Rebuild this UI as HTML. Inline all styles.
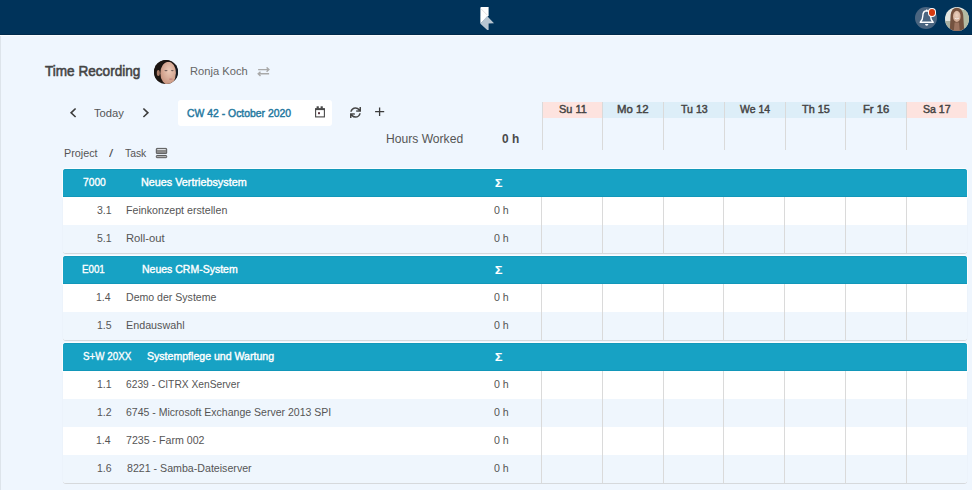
<!DOCTYPE html>
<html><head><meta charset="utf-8">
<style>
*{box-sizing:border-box;margin:0;padding:0}
html,body{width:972px;height:490px;overflow:hidden}
body{background:#eff6fe;font-family:"Liberation Sans",sans-serif;position:relative;color:#555}
.a{position:absolute;white-space:nowrap}
.t{line-height:1}
.vl{position:absolute;width:1px;background:#dadada}
</style></head><body>
<div class="a" style="left:0;top:0;width:972px;height:34px;background:#00335a"></div>
<div class="a" style="left:0;top:34px;width:972px;height:1px;background:#002a4c"></div>
<div class="a" style="left:0;top:35px;width:972px;height:1px;background:#fbfdff"></div>
<div class="a" style="left:0;top:36px;width:1px;height:454px;background:#dde4eb"></div>
<svg class="a" style="left:478px;top:5px" width="20" height="28" viewBox="0 0 20 28">
  <path d="M2.4 3 Q2.4 2.1 3.3 2.1 L10.6 2.1 L10.6 10.6 L2.4 18.7 Z" fill="#ffffff"/>
  <path d="M3.2 4 L9.2 10" stroke="#d8d4d2" stroke-width="0.7"/>
  <path d="M2.4 18.7 L9.1 11.1 L16 18.2 L10.6 18.4 L10.6 24.9 L9.2 24.9 Z" fill="#b8c6d2"/>
</svg>
<div class="a" style="left:915px;top:7px;width:22px;height:22px;border-radius:50%;background:#4a6580"></div>
<svg class="a" style="left:915px;top:7px" width="22" height="22" viewBox="0 0 22 22">
  <path d="M5.2 15.3 Q7.8 13 7.8 9 Q7.8 3.9 11.7 3.7 Q15.6 3.9 15.6 9 Q15.6 13 18.2 15.3 Z" fill="none" stroke="#fff" stroke-width="1.4" stroke-linejoin="round"/>
  <path d="M11.7 2.6 L11.7 3.8" stroke="#fff" stroke-width="1.3"/>
  <path d="M10 16.9 L13.4 16.9 Q13.2 18.7 11.7 18.7 Q10.2 18.7 10 16.9 Z" fill="#fff"/>
</svg>
<div class="a" style="left:929.1px;top:9.3px;width:6.4px;height:6.4px;border-radius:50%;background:#d63a10;box-shadow:0 0 0 1px #fff"></div>
<svg class="a" style="left:945px;top:7px" width="24" height="24" viewBox="0 0 24 24">
  <defs><clipPath id="c1"><circle cx="12" cy="12" r="12"/></clipPath>
  <radialGradient id="fg1" cx="0.5" cy="0.4" r="0.6"><stop offset="0" stop-color="#ead3c3"/><stop offset="1" stop-color="#cfa890"/></radialGradient></defs>
  <g clip-path="url(#c1)">
    <rect width="24" height="24" fill="#e4e6e0"/>
    <rect x="16" y="3" width="8" height="21" fill="#b3bba2"/>
    <rect x="0" y="14" width="6" height="10" fill="#a9b0a2"/>
    <path d="M4.8 24 L5.6 8 Q6.6 0.8 11.8 0.8 Q17.2 0.8 18.2 8 L19.2 24 Z" fill="#74523f"/>
    <ellipse cx="11.8" cy="9.4" rx="3.8" ry="5.6" fill="url(#fg1)"/>
    <path d="M9.6 11.2 Q11.8 12.6 14 11.2" stroke="#f4eee8" stroke-width="0.9" fill="none"/>
    <path d="M8.8 24 L9.6 15.5 L14 15.5 L14.8 24 Z" fill="#9c7460"/>
  </g>
</svg>
<div class="a t" style="left:44.60px;top:62.78px;font-size:15.5px;font-weight:normal;color:#444;-webkit-text-stroke:0.6px #444;transform:scaleX(0.8759);transform-origin:0 0">Time Recording</div>
<svg class="a" style="left:154px;top:59.8px" width="24" height="24" viewBox="0 0 24 24">
  <defs><clipPath id="c2"><circle cx="12" cy="12" r="12"/></clipPath>
  <radialGradient id="fg2" cx="0.55" cy="0.4" r="0.6"><stop offset="0" stop-color="#eccab8"/><stop offset="1" stop-color="#c99580"/></radialGradient></defs>
  <g clip-path="url(#c2)">
    <rect width="24" height="24" fill="#1c1511"/>
    <ellipse cx="14.2" cy="13.2" rx="7.8" ry="11.5" fill="url(#fg2)"/>
    <path d="M0 0 L24 0 L24 5 Q21 1.2 14 1.8 Q8 2.8 6 9.5 L5.5 24 L0 24 Z" fill="#1c1511"/>
    <ellipse cx="4.3" cy="13" rx="1.5" ry="3" fill="#a87a66"/>
    <path d="M21.6 4 Q22.5 12 21.3 21 L24 21 L24 4 Z" fill="#141a24"/>
    <ellipse cx="12" cy="10.6" rx="1.6" ry="0.6" fill="#6e5a56"/>
    <ellipse cx="18.3" cy="10.6" rx="1.4" ry="0.6" fill="#6e5a56"/>
    <ellipse cx="16.8" cy="19.1" rx="2" ry="0.7" fill="#c07a78"/>
  </g>
</svg>
<div class="a t" style="left:189.81px;top:66.13px;font-size:11.3px;font-weight:normal;color:#666;transform:scaleX(0.9877);transform-origin:0 0">Ronja Koch</div>
<svg class="a" style="left:257px;top:67px" width="13" height="10" viewBox="0 0 13 10">
  <path d="M1.1 2.6 L11.8 2.6 M9.6 0.4 L11.9 2.6 L9.6 4.7" fill="none" stroke="#a9a9a9" stroke-width="1.4"/>
  <path d="M12.1 6.8 L1.4 6.8 M3.5 4.7 L1.2 6.8 L3.5 9" fill="none" stroke="#a9a9a9" stroke-width="1.4"/>
</svg>
<svg class="a" style="left:69px;top:107px" width="10" height="12" viewBox="0 0 10 12">
  <path d="M6.6 1.5 L2.1 5.8 L6.6 10" fill="none" stroke="#3c3c3c" stroke-width="1.6"/>
</svg>
<div class="a t" style="left:94.10px;top:107.48px;font-size:11.6px;font-weight:normal;color:#555;transform:scaleX(0.9677);transform-origin:0 0">Today</div>
<svg class="a" style="left:141px;top:107px" width="10" height="12" viewBox="0 0 10 12">
  <path d="M2.4 1.5 L6.9 5.8 L2.4 10" fill="none" stroke="#3c3c3c" stroke-width="1.6"/>
</svg>
<div class="a" style="left:178px;top:100px;width:154px;height:26px;background:#fff;border-radius:3px"></div>
<div class="a t" style="left:187.40px;top:107.72px;font-size:11.2px;font-weight:normal;color:#24789f;-webkit-text-stroke:0.45px #24789f;transform:scaleX(0.9304);transform-origin:0 0">CW 42 - October 2020</div>
<svg class="a" style="left:314px;top:105px" width="12" height="13" viewBox="0 0 12 13">
  <rect x="1.6" y="3.9" width="8.8" height="8" fill="none" stroke="#484848" stroke-width="1.1"/>
  <rect x="1.1" y="3.3" width="9.8" height="1.8" fill="#484848"/>
  <rect x="2.6" y="1.3" width="2.2" height="2.4" fill="#484848"/>
  <rect x="6.6" y="1.3" width="2.2" height="2.4" fill="#484848"/>
  <rect x="4" y="7.2" width="2" height="2" fill="#5a3640"/>
</svg>
<svg class="a" style="left:350px;top:107px" width="11" height="11" viewBox="0 0 512 512">
  <path fill="#444" d="M440.65 12.57l4 82.77A247.16 247.16 0 0 0 255.83 8C134.73 8 33.91 94.92 12.29 209.82A12 12 0 0 0 24.09 224h49.05a12 12 0 0 0 11.670-9.26 175.91 175.91 0 0 1 317-56.94l-101.46-4.86a12 12 0 0 0-12.57 12v47.410a12 12 0 0 0 12 12H500a12 12 0 0 0 12-12V12a12 12 0 0 0-12-12h-47.37a12 12 0 0 0-11.98 12.57zM255.83 432a175.61 175.61 0 0 1-146-77.8l101.8 4.87a12 12 0 0 0 12.57-12v-47.4a12 12 0 0 0-12-12H12a12 12 0 0 0-12 12V500a12 12 0 0 0 12 12h47.35a12 12 0 0 0 12-12.6l-4.15-82.57A247.17 247.17 0 0 0 255.83 504c121.11 0 221.93-86.92 243.55-201.82a12 12 0 0 0-11.8-14.18h-49.05a12 12 0 0 0-11.67 9.26A175.86 175.86 0 0 1 255.83 432z"/>
</svg>
<svg class="a" style="left:374px;top:106px" width="11" height="11" viewBox="0 0 11 11">
  <path d="M5.6 1.4 L5.6 9.9 M1.1 5.6 L10.2 5.6" stroke="#3c3c3c" stroke-width="1.3"/>
</svg>
<div class="a t" style="left:386.32px;top:132.50px;font-size:12.4px;font-weight:normal;color:#555;transform:scaleX(0.9766);transform-origin:0 0">Hours Worked</div>
<div class="a t" style="left:502.40px;top:132.50px;font-size:12.4px;font-weight:bold;color:#4a4a4a;transform:scaleX(0.9588);transform-origin:0 0">0 h</div>
<div class="a" style="left:543px;top:102px;width:59px;height:16px;background:#fde3df;"></div>
<div class="a t" style="left:558.80px;top:103.96px;font-size:10.8px;font-weight:normal;color:#444;-webkit-text-stroke:0.45px #444;transform:scaleX(1.0111);transform-origin:0 0">Su 11</div>
<div class="a" style="left:603px;top:102px;width:60px;height:16px;background:#ddeef8;"></div>
<div class="a t" style="left:617.14px;top:103.96px;font-size:10.8px;font-weight:normal;color:#444;-webkit-text-stroke:0.45px #444;transform:scaleX(1.0552);transform-origin:0 0">Mo 12</div>
<div class="a" style="left:664px;top:102px;width:60px;height:16px;background:#ddeef8;"></div>
<div class="a t" style="left:681.25px;top:103.96px;font-size:10.8px;font-weight:normal;color:#444;-webkit-text-stroke:0.45px #444;transform:scaleX(0.9815);transform-origin:0 0">Tu 13</div>
<div class="a" style="left:725px;top:102px;width:60px;height:16px;background:#ddeef8;"></div>
<div class="a t" style="left:739.90px;top:103.96px;font-size:10.8px;font-weight:normal;color:#444;-webkit-text-stroke:0.45px #444;transform:scaleX(0.9677);transform-origin:0 0">We 14</div>
<div class="a" style="left:786px;top:102px;width:59px;height:16px;background:#ddeef8;"></div>
<div class="a t" style="left:802.30px;top:103.96px;font-size:10.8px;font-weight:normal;color:#444;-webkit-text-stroke:0.45px #444;transform:scaleX(1.0074);transform-origin:0 0">Th 15</div>
<div class="a" style="left:846px;top:102px;width:60px;height:16px;background:#ddeef8;"></div>
<div class="a t" style="left:862.76px;top:103.96px;font-size:10.8px;font-weight:normal;color:#444;-webkit-text-stroke:0.45px #444;transform:scaleX(1.0417);transform-origin:0 0">Fr 16</div>
<div class="a" style="left:907px;top:102px;width:60px;height:16px;background:#fde3df;border-radius:0 2px 0 0;"></div>
<div class="a t" style="left:923.40px;top:103.96px;font-size:10.8px;font-weight:normal;color:#444;-webkit-text-stroke:0.45px #444;transform:scaleX(0.9786);transform-origin:0 0">Sa 17</div>
<div class="vl" style="left:542px;top:102px;height:48px"></div>
<div class="vl" style="left:602px;top:102px;height:48px"></div>
<div class="vl" style="left:663px;top:102px;height:48px"></div>
<div class="vl" style="left:724px;top:102px;height:48px"></div>
<div class="vl" style="left:785px;top:102px;height:48px"></div>
<div class="vl" style="left:845px;top:102px;height:48px"></div>
<div class="vl" style="left:906px;top:102px;height:48px"></div>
<div class="a t" style="left:63.58px;top:147.83px;font-size:10.6px;font-weight:normal;color:#555;transform:scaleX(1.0188);transform-origin:0 0">Project</div>
<div class="a t" style="left:108.70px;top:147.83px;font-size:10.6px;font-weight:normal;color:#555;transform:scaleX(1.4333);transform-origin:0 0">/</div>
<div class="a t" style="left:125.10px;top:147.83px;font-size:10.6px;font-weight:normal;color:#555;transform:scaleX(0.9773);transform-origin:0 0">Task</div>
<svg class="a" style="left:155px;top:147px" width="13" height="12" viewBox="0 0 13 12">
  <rect x="1.3" y="1.4" width="10.4" height="5.2" rx="0.6" fill="#8a8a8a" stroke="#505050" stroke-width="0.9"/>
  <rect x="2.3" y="2.1" width="8.4" height="0.8" fill="#eef2f6"/>
  <rect x="1.3" y="8.5" width="10.4" height="2.2" rx="0.6" fill="#b0b0b0" stroke="#505050" stroke-width="0.9"/>
</svg>
<div class="a" style="left:63px;top:169px;width:904px;height:84px;background:#fff;border-radius:3px;box-shadow:0 1px 0 #d6d9dc,0 0 1px rgba(0,0,0,.12)"></div>
<div class="a" style="left:63px;top:169px;width:904px;height:28px;background:#17a2c4;border-radius:3px 3px 0 0;box-shadow:0 0 0 1px rgba(255,255,255,.85),inset 0 -1px 0 #1297b9,inset 0 1px 0 #1499bb"></div>
<div class="a t" style="left:82.80px;top:176.50px;font-size:11.1px;font-weight:normal;color:#fff;-webkit-text-stroke:0.35px #fff;transform:scaleX(0.9240);transform-origin:0 0">7000</div>
<div class="a t" style="left:141.23px;top:176.50px;font-size:11.1px;font-weight:normal;color:#fff;-webkit-text-stroke:0.4px #fff;transform:scaleX(0.9738);transform-origin:0 0">Neues Vertriebsystem</div>
<div class="a t" style="left:495.20px;top:177.59px;font-size:11px;font-weight:bold;color:#fff;-webkit-text-stroke:0.2px #fff;transform:scaleX(1.1143);transform-origin:0 0">&Sigma;</div>
<div class="a" style="left:63px;top:197px;width:904px;height:28px;background:#fff;"></div>
<div class="a t" style="left:97.25px;top:205.03px;font-size:11.3px;font-weight:normal;color:#555;transform:scaleX(0.9300);transform-origin:0 0">3.1</div>
<div class="a t" style="left:126.46px;top:205.03px;font-size:11.3px;font-weight:normal;color:#555;transform:scaleX(0.9434);transform-origin:0 0">Feinkonzept erstellen</div>
<div class="a t" style="left:493.70px;top:205.03px;font-size:11.3px;font-weight:normal;color:#555;transform:scaleX(0.9400);transform-origin:0 0">0 h</div>
<div class="a" style="left:63px;top:225px;width:904px;height:28px;background:#eff6fd;border-radius:0 0 3px 3px;"></div>
<div class="a t" style="left:97.25px;top:233.03px;font-size:11.3px;font-weight:normal;color:#555;transform:scaleX(0.9300);transform-origin:0 0">5.1</div>
<div class="a t" style="left:126.41px;top:233.03px;font-size:11.3px;font-weight:normal;color:#555;transform:scaleX(0.9947);transform-origin:0 0">Roll-out</div>
<div class="a t" style="left:493.70px;top:233.03px;font-size:11.3px;font-weight:normal;color:#555;transform:scaleX(0.9400);transform-origin:0 0">0 h</div>
<div class="vl" style="left:541px;top:197px;height:56px"></div>
<div class="vl" style="left:602px;top:197px;height:56px"></div>
<div class="vl" style="left:663px;top:197px;height:56px"></div>
<div class="vl" style="left:723px;top:197px;height:56px"></div>
<div class="vl" style="left:784px;top:197px;height:56px"></div>
<div class="vl" style="left:845px;top:197px;height:56px"></div>
<div class="vl" style="left:906px;top:197px;height:56px"></div>
<div class="a" style="left:63px;top:256px;width:904px;height:84px;background:#fff;border-radius:3px;box-shadow:0 1px 0 #d6d9dc,0 0 1px rgba(0,0,0,.12)"></div>
<div class="a" style="left:63px;top:256px;width:904px;height:28px;background:#17a2c4;border-radius:3px 3px 0 0;box-shadow:0 0 0 1px rgba(255,255,255,.85),inset 0 -1px 0 #1297b9,inset 0 1px 0 #1499bb"></div>
<div class="a t" style="left:81.72px;top:263.50px;font-size:11.1px;font-weight:normal;color:#fff;-webkit-text-stroke:0.35px #fff;transform:scaleX(0.8800);transform-origin:0 0">E001</div>
<div class="a t" style="left:141.65px;top:263.50px;font-size:11.1px;font-weight:normal;color:#fff;-webkit-text-stroke:0.4px #fff;transform:scaleX(0.9460);transform-origin:0 0">Neues CRM-System</div>
<div class="a t" style="left:495.20px;top:264.59px;font-size:11px;font-weight:bold;color:#fff;-webkit-text-stroke:0.2px #fff;transform:scaleX(1.1143);transform-origin:0 0">&Sigma;</div>
<div class="a" style="left:63px;top:284px;width:904px;height:28px;background:#fff;"></div>
<div class="a t" style="left:96.32px;top:292.03px;font-size:11.3px;font-weight:normal;color:#555;transform:scaleX(0.9300);transform-origin:0 0">1.4</div>
<div class="a t" style="left:126.47px;top:292.03px;font-size:11.3px;font-weight:normal;color:#555;transform:scaleX(0.9347);transform-origin:0 0">Demo der Systeme</div>
<div class="a t" style="left:493.70px;top:292.03px;font-size:11.3px;font-weight:normal;color:#555;transform:scaleX(0.9400);transform-origin:0 0">0 h</div>
<div class="a" style="left:63px;top:312px;width:904px;height:28px;background:#eff6fd;border-radius:0 0 3px 3px;"></div>
<div class="a t" style="left:97.25px;top:320.03px;font-size:11.3px;font-weight:normal;color:#555;transform:scaleX(0.9300);transform-origin:0 0">1.5</div>
<div class="a t" style="left:126.45px;top:320.03px;font-size:11.3px;font-weight:normal;color:#555;transform:scaleX(0.9517);transform-origin:0 0">Endauswahl</div>
<div class="a t" style="left:493.70px;top:320.03px;font-size:11.3px;font-weight:normal;color:#555;transform:scaleX(0.9400);transform-origin:0 0">0 h</div>
<div class="vl" style="left:541px;top:284px;height:56px"></div>
<div class="vl" style="left:602px;top:284px;height:56px"></div>
<div class="vl" style="left:663px;top:284px;height:56px"></div>
<div class="vl" style="left:723px;top:284px;height:56px"></div>
<div class="vl" style="left:784px;top:284px;height:56px"></div>
<div class="vl" style="left:845px;top:284px;height:56px"></div>
<div class="vl" style="left:906px;top:284px;height:56px"></div>
<div class="a" style="left:63px;top:343px;width:904px;height:140px;background:#fff;border-radius:3px;box-shadow:0 1px 0 #d6d9dc,0 0 1px rgba(0,0,0,.12)"></div>
<div class="a" style="left:63px;top:343px;width:904px;height:28px;background:#17a2c4;border-radius:3px 3px 0 0;box-shadow:0 0 0 1px rgba(255,255,255,.85),inset 0 -1px 0 #1297b9,inset 0 1px 0 #1499bb"></div>
<div class="a t" style="left:82.60px;top:350.50px;font-size:11.1px;font-weight:normal;color:#fff;-webkit-text-stroke:0.35px #fff;transform:scaleX(0.8855);transform-origin:0 0">S+W 20XX</div>
<div class="a t" style="left:146.70px;top:350.50px;font-size:11.1px;font-weight:normal;color:#fff;-webkit-text-stroke:0.4px #fff;transform:scaleX(0.9526);transform-origin:0 0">Systempflege und Wartung</div>
<div class="a t" style="left:495.20px;top:351.59px;font-size:11px;font-weight:bold;color:#fff;-webkit-text-stroke:0.2px #fff;transform:scaleX(1.1143);transform-origin:0 0">&Sigma;</div>
<div class="a" style="left:63px;top:371px;width:904px;height:28px;background:#fff;"></div>
<div class="a t" style="left:97.25px;top:379.03px;font-size:11.3px;font-weight:normal;color:#555;transform:scaleX(0.9300);transform-origin:0 0">1.1</div>
<div class="a t" style="left:126.49px;top:379.03px;font-size:11.3px;font-weight:normal;color:#555;transform:scaleX(0.9065);transform-origin:0 0">6239 - CITRX XenServer</div>
<div class="a t" style="left:493.70px;top:379.03px;font-size:11.3px;font-weight:normal;color:#555;transform:scaleX(0.9400);transform-origin:0 0">0 h</div>
<div class="a" style="left:63px;top:399px;width:904px;height:28px;background:#eff6fd;"></div>
<div class="a t" style="left:97.25px;top:407.03px;font-size:11.3px;font-weight:normal;color:#555;transform:scaleX(0.9300);transform-origin:0 0">1.2</div>
<div class="a t" style="left:126.47px;top:407.03px;font-size:11.3px;font-weight:normal;color:#555;transform:scaleX(0.9311);transform-origin:0 0">6745 - Microsoft Exchange Server 2013 SPI</div>
<div class="a t" style="left:493.70px;top:407.03px;font-size:11.3px;font-weight:normal;color:#555;transform:scaleX(0.9400);transform-origin:0 0">0 h</div>
<div class="a" style="left:63px;top:427px;width:904px;height:28px;background:#fff;"></div>
<div class="a t" style="left:96.32px;top:435.03px;font-size:11.3px;font-weight:normal;color:#555;transform:scaleX(0.9300);transform-origin:0 0">1.4</div>
<div class="a t" style="left:126.46px;top:435.03px;font-size:11.3px;font-weight:normal;color:#555;transform:scaleX(0.9402);transform-origin:0 0">7235 - Farm 002</div>
<div class="a t" style="left:493.70px;top:435.03px;font-size:11.3px;font-weight:normal;color:#555;transform:scaleX(0.9400);transform-origin:0 0">0 h</div>
<div class="a" style="left:63px;top:455px;width:904px;height:28px;background:#eff6fd;border-radius:0 0 3px 3px;"></div>
<div class="a t" style="left:97.25px;top:463.03px;font-size:11.3px;font-weight:normal;color:#555;transform:scaleX(0.9300);transform-origin:0 0">1.6</div>
<div class="a t" style="left:127.40px;top:463.03px;font-size:11.3px;font-weight:normal;color:#555;transform:scaleX(0.9409);transform-origin:0 0">8221 - Samba-Dateiserver</div>
<div class="a t" style="left:493.70px;top:463.03px;font-size:11.3px;font-weight:normal;color:#555;transform:scaleX(0.9400);transform-origin:0 0">0 h</div>
<div class="vl" style="left:541px;top:371px;height:112px"></div>
<div class="vl" style="left:602px;top:371px;height:112px"></div>
<div class="vl" style="left:663px;top:371px;height:112px"></div>
<div class="vl" style="left:723px;top:371px;height:112px"></div>
<div class="vl" style="left:784px;top:371px;height:112px"></div>
<div class="vl" style="left:845px;top:371px;height:112px"></div>
<div class="vl" style="left:906px;top:371px;height:112px"></div>
</body></html>
